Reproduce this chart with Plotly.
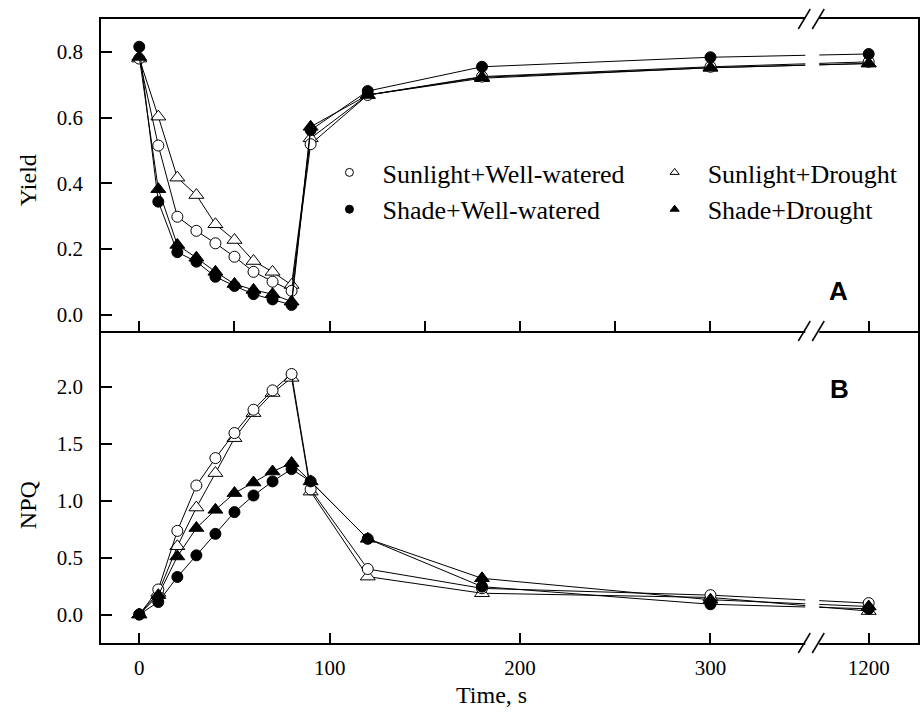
import plotly.graph_objects as go

# ---------------- data ----------------
time_s = [0, 10, 20, 30, 40, 50, 60, 70, 80, 90, 120, 180, 300, 1200]

names = ["Sunlight+Well-watered", "Shade+Well-watered", "Sunlight+Drought", "Shade+Drought"]

yield_sun_ww = [0.780, 0.515, 0.298, 0.255, 0.217, 0.176, 0.130, 0.100, 0.072, 0.519, 0.669, 0.725, 0.755, 0.770]
yield_shade_ww = [0.816, 0.344, 0.190, 0.161, 0.115, 0.087, 0.062, 0.046, 0.029, 0.562, 0.681, 0.755, 0.784, 0.794]
yield_sun_dr = [0.780, 0.603, 0.417, 0.364, 0.275, 0.227, 0.163, 0.130, 0.090, 0.537, 0.669, 0.720, 0.752, 0.765]
yield_shade_dr = [0.785, 0.382, 0.212, 0.173, 0.130, 0.093, 0.075, 0.062, 0.039, 0.572, 0.669, 0.723, 0.752, 0.765]

npq_sun_ww = [0.00, 0.22, 0.735, 1.134, 1.375, 1.595, 1.80, 1.97, 2.114, 1.10, 0.40, 0.23, 0.17, 0.10]
npq_shade_ww = [0.00, 0.11, 0.33, 0.52, 0.709, 0.90, 1.046, 1.17, 1.278, 1.17, 0.665, 0.245, 0.09, 0.05]
npq_sun_dr = [0.00, 0.19, 0.60, 0.94, 1.243, 1.55, 1.77, 1.947, 2.08, 1.08, 0.333, 0.187, 0.15, 0.03]
npq_shade_dr = [0.00, 0.17, 0.51, 0.76, 0.92, 1.067, 1.16, 1.257, 1.331, 1.17, 0.665, 0.318, 0.13, 0.07]

top_xticks = [0, 50, 100, 150, 200, 250, 300, 1200]
bottom_xticks = [0, 100, 200, 300, 1200]
yield_ticks = [0.0, 0.2, 0.4, 0.6, 0.8]
npq_ticks = [0.0, 0.5, 1.0, 1.5, 2.0]

# ---------------- broken time axis ----------------
BREAK_FROM = 300
BREAK_TO = 1200
BREAK_GAP = 83.1  # axis units between 300 and 1200 after compression


def tx(t):
    return t if t <= BREAK_FROM else t - (BREAK_TO - BREAK_FROM) + BREAK_GAP


W, H = 921, 713
ML, MR, MT, MB = 101, 1, 19, 70
PW, PH = W - ML - MR, H - MT - MB
X_RANGE = [-20.1, 409.0]
Y_TOP_RANGE = [-0.0503, 0.9006]
Y_BOT_RANGE = [-0.2505, 2.492]


def px2x(px):
    return X_RANGE[0] + (px - ML) / PW * (X_RANGE[1] - X_RANGE[0])


def px2paper_x(px):
    return (px - ML) / PW


def py2paper(py):
    return (H - MB - py) / PH


FONT_SERIF = "Liberation Serif"

styles = {
    "Sunlight+Well-watered": dict(symbol="circle", size=11, color="white"),
    "Shade+Well-watered": dict(symbol="circle", size=11, color="black"),
    "Sunlight+Drought": dict(symbol="triangle-up", size=13, color="white"),
    "Shade+Drought": dict(symbol="triangle-up", size=13, color="black"),
}

yield_data = {
    "Sunlight+Well-watered": yield_sun_ww,
    "Shade+Well-watered": yield_shade_ww,
    "Sunlight+Drought": yield_sun_dr,
    "Shade+Drought": yield_shade_dr,
}
npq_data = {
    "Sunlight+Well-watered": npq_sun_ww,
    "Shade+Well-watered": npq_shade_ww,
    "Sunlight+Drought": npq_sun_dr,
    "Shade+Drought": npq_shade_dr,
}

draw_order = ["Sunlight+Drought", "Sunlight+Well-watered", "Shade+Drought", "Shade+Well-watered"]

fig = go.Figure()
xs = [tx(t) for t in time_s]
for panel, data, xa, ya in [("A", yield_data, "x2", "y2"), ("B", npq_data, "x", "y")]:
    for nm in draw_order:
        st = styles[nm]
        fig.add_trace(go.Scatter(
            x=xs, y=data[nm], mode="lines+markers", name=nm, showlegend=False,
            xaxis=xa, yaxis=ya, cliponaxis=False,
            line=dict(color="black", width=1),
            marker=dict(symbol=st["symbol"], size=st["size"], color=st["color"],
                        line=dict(color="black", width=1)),
        ))

# legend-only entries (smaller symbols, two columns)
PAD = "\u00a0\u00a0"
for nm, lg in [("Sunlight+Well-watered", "legend"), ("Shade+Well-watered", "legend"),
               ("Sunlight+Drought", "legend2"), ("Shade+Drought", "legend2")]:
    st = styles[nm]
    fig.add_trace(go.Scatter(
        x=[None], y=[None], mode="markers", name=PAD + nm, legend=lg, xaxis="x2", yaxis="y2",
        marker=dict(symbol=st["symbol"], size=8, color=st["color"], line=dict(color="black", width=1)),
    ))

axis_common = dict(showline=True, linecolor="black", linewidth=1.5,
                   showgrid=False, zeroline=False, ticks="inside", tickwidth=1.5,
                   tickcolor="black", tickfont=dict(family=FONT_SERIF, size=21, color="black"))

fig.update_layout(
    width=W, height=H, margin=dict(l=ML, r=MR, t=MT, b=MB),
    paper_bgcolor="white", plot_bgcolor="white",
    xaxis=dict(domain=[0, 1], anchor="y", range=X_RANGE, mirror=False,
               tickvals=[tx(t) for t in bottom_xticks], ticktext=[str(t) for t in bottom_xticks],
               ticklen=10, ticklabelstandoff=5, **axis_common),
    xaxis2=dict(domain=[0, 1], anchor="y2", range=X_RANGE, mirror=True,
                tickvals=[tx(t) for t in top_xticks], showticklabels=False,
                ticklen=10, **axis_common),
    yaxis=dict(domain=[0, 0.5], anchor="x", range=Y_BOT_RANGE, tickvals=npq_ticks, mirror=True,
               tickformat=".1f", ticklen=11, ticklabelstandoff=12, **axis_common),
    yaxis2=dict(domain=[0.5, 1], anchor="x2", range=Y_TOP_RANGE, tickvals=yield_ticks, mirror=True,
                tickformat=".1f", ticklen=11, ticklabelstandoff=12, **axis_common),
    legend=dict(x=px2paper_x(330), y=py2paper(149), xanchor="left", yanchor="top",
                bgcolor="rgba(0,0,0,0)", borderwidth=0, tracegroupgap=0,
                font=dict(family=FONT_SERIF, size=26, color="black")),
    legend2=dict(x=px2paper_x(656), y=py2paper(149), xanchor="left", yanchor="top",
                 bgcolor="rgba(0,0,0,0)", borderwidth=0, tracegroupgap=0,
                 font=dict(family=FONT_SERIF, size=26, color="black")),
)

# axis titles and panel labels
ann = [
    dict(text="Yield", x=px2paper_x(28), y=py2paper(180), textangle=-90,
         font=dict(family=FONT_SERIF, size=24, color="black")),
    dict(text="NPQ", x=px2paper_x(28), y=py2paper(505), textangle=-90,
         font=dict(family=FONT_SERIF, size=24, color="black")),
    dict(text="Time, s", x=px2paper_x(492), y=py2paper(695),
         font=dict(family=FONT_SERIF, size=24, color="black")),
    dict(text="<b>A</b>", x=px2paper_x(840), y=py2paper(291),
         font=dict(family="Liberation Sans", size=26, color="black")),
    dict(text="<b>B</b>", x=px2paper_x(841), y=py2paper(389),
         font=dict(family="Liberation Sans", size=26, color="black")),
]
for a in ann:
    fig.add_annotation(xref="paper", yref="paper", showarrow=False,
                       xanchor="center", yanchor="middle", **a)

# axis break: white gap and double slashes
BREAK_PX = 814
fig.add_shape(type="rect", xref="x", yref="paper",
              x0=px2x(BREAK_PX - 7), x1=px2x(BREAK_PX + 7),
              y0=py2paper(646), y1=py2paper(16),
              fillcolor="white", line=dict(width=0), layer="above")
for yc in [19, 331, 643]:
    for xc in [806, 820]:
        fig.add_shape(type="line", xref="x", yref="paper",
                      x0=px2x(xc - 6), y0=py2paper(yc + 10),
                      x1=px2x(xc + 6), y1=py2paper(yc - 10),
                      line=dict(color="black", width=1.5), layer="above")

fig.write_html("out.html")
